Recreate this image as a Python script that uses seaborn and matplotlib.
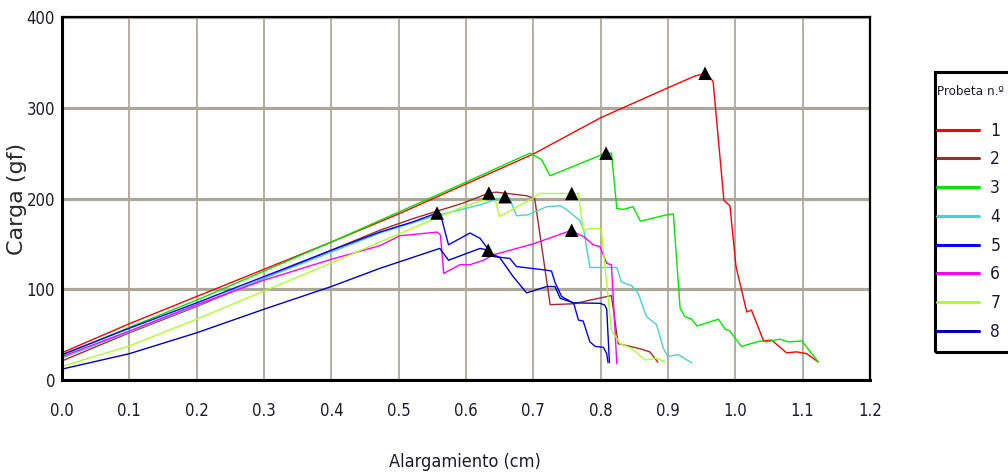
import numpy as np
import pandas as pd
import matplotlib
matplotlib.use("Agg")
import matplotlib.pyplot as plt
from matplotlib import font_manager
from matplotlib.lines import Line2D
from matplotlib.patches import Rectangle
import seaborn as sns

# ---- data: load (gf) vs elongation (cm) for each specimen ----
p1_x = [0.0, 0.1, 0.2, 0.3, 0.4, 0.5, 0.6, 0.7, 0.8, 0.9, 0.94, 0.957, 0.967, 0.983,
        0.992, 1.001, 1.017, 1.024, 1.042, 1.054, 1.076, 1.091, 1.106, 1.123]
p1_y = [30, 62, 92, 122, 152, 183, 216, 249, 289, 322, 335, 338, 329, 198,
        192, 125, 75, 77, 43, 44, 30, 31, 29, 20]

p2_x = [0.0, 0.1, 0.2, 0.3, 0.4, 0.472, 0.522, 0.596, 0.634, 0.645, 0.690, 0.702,
        0.725, 0.76, 0.784, 0.816, 0.826, 0.844, 0.858, 0.873, 0.885]
p2_y = [21, 52, 81, 112, 143, 165, 178, 195, 206, 207, 203, 200,
        83, 84, 88, 93, 40, 37, 34.5, 31, 19.5]

p3_x = [0.0, 0.1, 0.2, 0.3, 0.4, 0.5, 0.6, 0.695, 0.712, 0.725, 0.804, 0.816, 0.824,
        0.834, 0.848, 0.859, 0.898, 0.908, 0.918, 0.925, 0.935, 0.943, 0.975, 0.985,
        0.992, 1.009, 1.037, 1.047, 1.066, 1.079, 1.099, 1.123]
p3_y = [27, 58, 88, 120, 152, 185, 218, 250, 243, 225, 249, 250, 189,
        188, 191, 175, 182, 183, 79, 70, 67, 59.5, 67, 56,
        54, 37, 43, 42, 45, 42, 43, 20]

p4_x = [0.0, 0.1, 0.2, 0.3, 0.4, 0.472, 0.55, 0.621, 0.641, 0.658, 0.665, 0.675,
        0.692, 0.72, 0.74, 0.747, 0.769, 0.775, 0.784, 0.797, 0.824, 0.831, 0.846,
        0.856, 0.868, 0.883, 0.893, 0.900, 0.915, 0.935]
p4_y = [24, 53, 82, 112, 141, 162, 180, 193, 198, 202, 200, 181,
        182, 191, 192, 189, 176, 165, 124, 124, 124, 108, 104,
        95, 70, 61, 35, 26, 28, 19]

p5_x = [0.0, 0.1, 0.2, 0.3, 0.4, 0.472, 0.52, 0.557, 0.562, 0.574, 0.606, 0.621,
        0.641, 0.665, 0.675, 0.720, 0.727, 0.732, 0.742, 0.760, 0.767, 0.774, 0.784,
        0.792, 0.804, 0.809, 0.811]
p5_y = [28, 57, 85, 114, 143, 163, 174, 184, 183, 149, 162, 156,
        136, 134, 125, 121, 120, 108, 92, 84.5, 66, 65, 42,
        37, 36, 29, 19]

p6_x = [0.0, 0.1, 0.2, 0.3, 0.4, 0.472, 0.502, 0.517, 0.557, 0.562, 0.567, 0.591,
        0.606, 0.626, 0.641, 0.70, 0.757, 0.767, 0.775, 0.789, 0.799, 0.809, 0.816, 0.824]
p6_y = [25.7, 54, 83, 110, 133, 148, 159, 160, 163, 160, 117.5, 127,
        127, 132, 138, 150, 165, 160.5, 158, 149, 147, 128.5, 127, 18]

p7_x = [0.0, 0.1, 0.2, 0.3, 0.4, 0.472, 0.596, 0.621, 0.636, 0.643, 0.650, 0.698,
        0.710, 0.767, 0.774, 0.784, 0.799, 0.801, 0.816, 0.829, 0.846, 0.866, 0.883, 0.896]
p7_y = [15, 37.5, 67, 98, 129, 152, 191, 197, 200, 200, 180, 200,
        205.6, 205.6, 165, 167, 167, 165, 55, 40, 35, 22, 24, 20]

p8_x = [0.0, 0.1, 0.2, 0.3, 0.4, 0.472, 0.561, 0.574, 0.621, 0.633, 0.641, 0.650,
        0.670, 0.690, 0.720, 0.732, 0.740, 0.760, 0.799, 0.806, 0.809, 0.813]
p8_y = [12, 29, 52, 78, 103, 123, 145, 132, 145, 143, 138, 135,
        114, 96, 103, 103, 90, 85, 84.5, 82.6, 78, 19.5]

# break point (maximum load) marked on each curve
peak_x = [0.955, 0.634, 0.808, 0.658, 0.557, 0.757, 0.757, 0.633]
peak_y = [338, 206, 250, 202, 184, 165, 205.6, 143]

probetas = ["1", "2", "3", "4", "5", "6", "7", "8"]
colores = ["#ff0000", "#a52a2a", "#00e600", "#48d1cc",
           "#0000ff", "#ff00ff", "#adff2f", "#0000c0"]

x_ticks = [0.0, 0.1, 0.2, 0.3, 0.4, 0.5, 0.6, 0.7, 0.8, 0.9, 1.0, 1.1, 1.2]
y_ticks = [0, 100, 200, 300, 400]

series_x = [p1_x, p2_x, p3_x, p4_x, p5_x, p6_x, p7_x, p8_x]
series_y = [p1_y, p2_y, p3_y, p4_y, p5_y, p6_y, p7_y, p8_y]

df = pd.concat(
    [pd.DataFrame({"x": xs, "y": ys, "probeta": p})
     for xs, ys, p in zip(series_x, series_y, probetas)],
    ignore_index=True,
)
picos = pd.DataFrame({"x": peak_x, "y": peak_y})

# ---- fonts: prefer a narrow sans face for the numeric texts ----
sns.set_theme(style="white")
narrow_fp = None
for f in font_manager.fontManager.ttflist:
    tag = (f.name + " " + str(f.stretch)).lower()
    if ("narrow" in tag or "condensed" in tag) and "mono" not in tag and "serif" not in tag:
        if f.weight in (400, "normal", "regular") and f.style == "normal":
            narrow_fp = f
            break
if narrow_fp is not None:
    plt.rcParams["font.family"] = [narrow_fp.name, "DejaVu Sans"]
    plt.rcParams["font.stretch"] = narrow_fp.stretch
    size_scale = 1.0
else:
    plt.rcParams["font.family"] = ["Liberation Sans", "DejaVu Sans"]
    size_scale = 0.85

text_color = "#1c1c2a"
grid_color = "#aca898"

fig = plt.figure(figsize=(10.08, 4.75), dpi=100)
ax = fig.add_axes([62 / 1008, 95 / 475, 808 / 1008, 363 / 475])

sns.lineplot(data=df, x="x", y="y", hue="probeta", hue_order=probetas,
             palette=colores, sort=False, estimator=None, linewidth=1.0,
             legend=False, ax=ax, zorder=3)
sns.scatterplot(data=picos, x="x", y="y", marker="^", color="black",
                s=95, edgecolor="none", ax=ax, zorder=5)

ax.set_xlim(0, 1.2)
ax.set_ylim(0, 400)
ax.set_xticks(x_ticks)
ax.set_xticklabels([f"{v:.1f}" for v in x_ticks])
ax.set_xticks(np.arange(0.05, 1.2, 0.1), minor=True)
ax.set_yticks(y_ticks)
ax.set_yticklabels([str(v) for v in y_ticks])
ax.set_yticks([50, 150, 250, 350], minor=True)

ax.grid(False)
ax.set_axisbelow(True)
ax.xaxis.grid(True, which="major", color=grid_color, linewidth=1.3)
ax.yaxis.grid(True, which="major", color=grid_color, linewidth=2.3)

for side in ["left", "bottom"]:
    ax.spines[side].set_linewidth(2.2)
for side in ["top", "right"]:
    ax.spines[side].set_linewidth(1.6)
for s in ax.spines.values():
    s.set_color("black")
    s.set_zorder(6)

ax.tick_params(axis="both", which="both", direction="inout", length=8,
               width=1.8, color="black", labelcolor=text_color,
               labelsize=12 * size_scale)
ax.tick_params(axis="x", which="both", pad=12)
ax.tick_params(axis="y", which="both", pad=1)

ax.set_xlabel("Alargamiento (cm)", fontsize=13 * size_scale, color=text_color)
ax.xaxis.set_label_coords(0.499, -0.2)
ax.set_ylabel("Carga (gf)", fontsize=16, color="#2a2a2a",
              family="DejaVu Sans", fontstretch="normal")
ax.yaxis.set_label_coords(-0.043, 0.5)

# ---- legend ----
leg_fs = 12.5 * size_scale
handles = [Line2D([0], [0], color=c, linewidth=2.2) for c in colores]
leg = fig.legend(handles, probetas, title="Probeta n.º", loc="upper left",
                 bbox_to_anchor=(937 / 1008, 1 - 85 / 475), frameon=False,
                 fontsize=leg_fs, title_fontsize=9.6 * size_scale,
                 handlelength=42 / (leg_fs * 100 / 72),
                 handletextpad=0.65, labelspacing=0.62, borderpad=0.0,
                 borderaxespad=0.0, alignment="left")
leg._legend_box.sep = 17
for t in leg.get_texts():
    t.set_color(text_color)
leg.get_title().set_color(text_color)
fig.patches.append(Rectangle((935 / 1008, (475 - 352) / 475), 85 / 1008, 280 / 475,
                             transform=fig.transFigure, fill=False,
                             edgecolor="black", linewidth=2.2))

fig.savefig("out.png", dpi=100)
